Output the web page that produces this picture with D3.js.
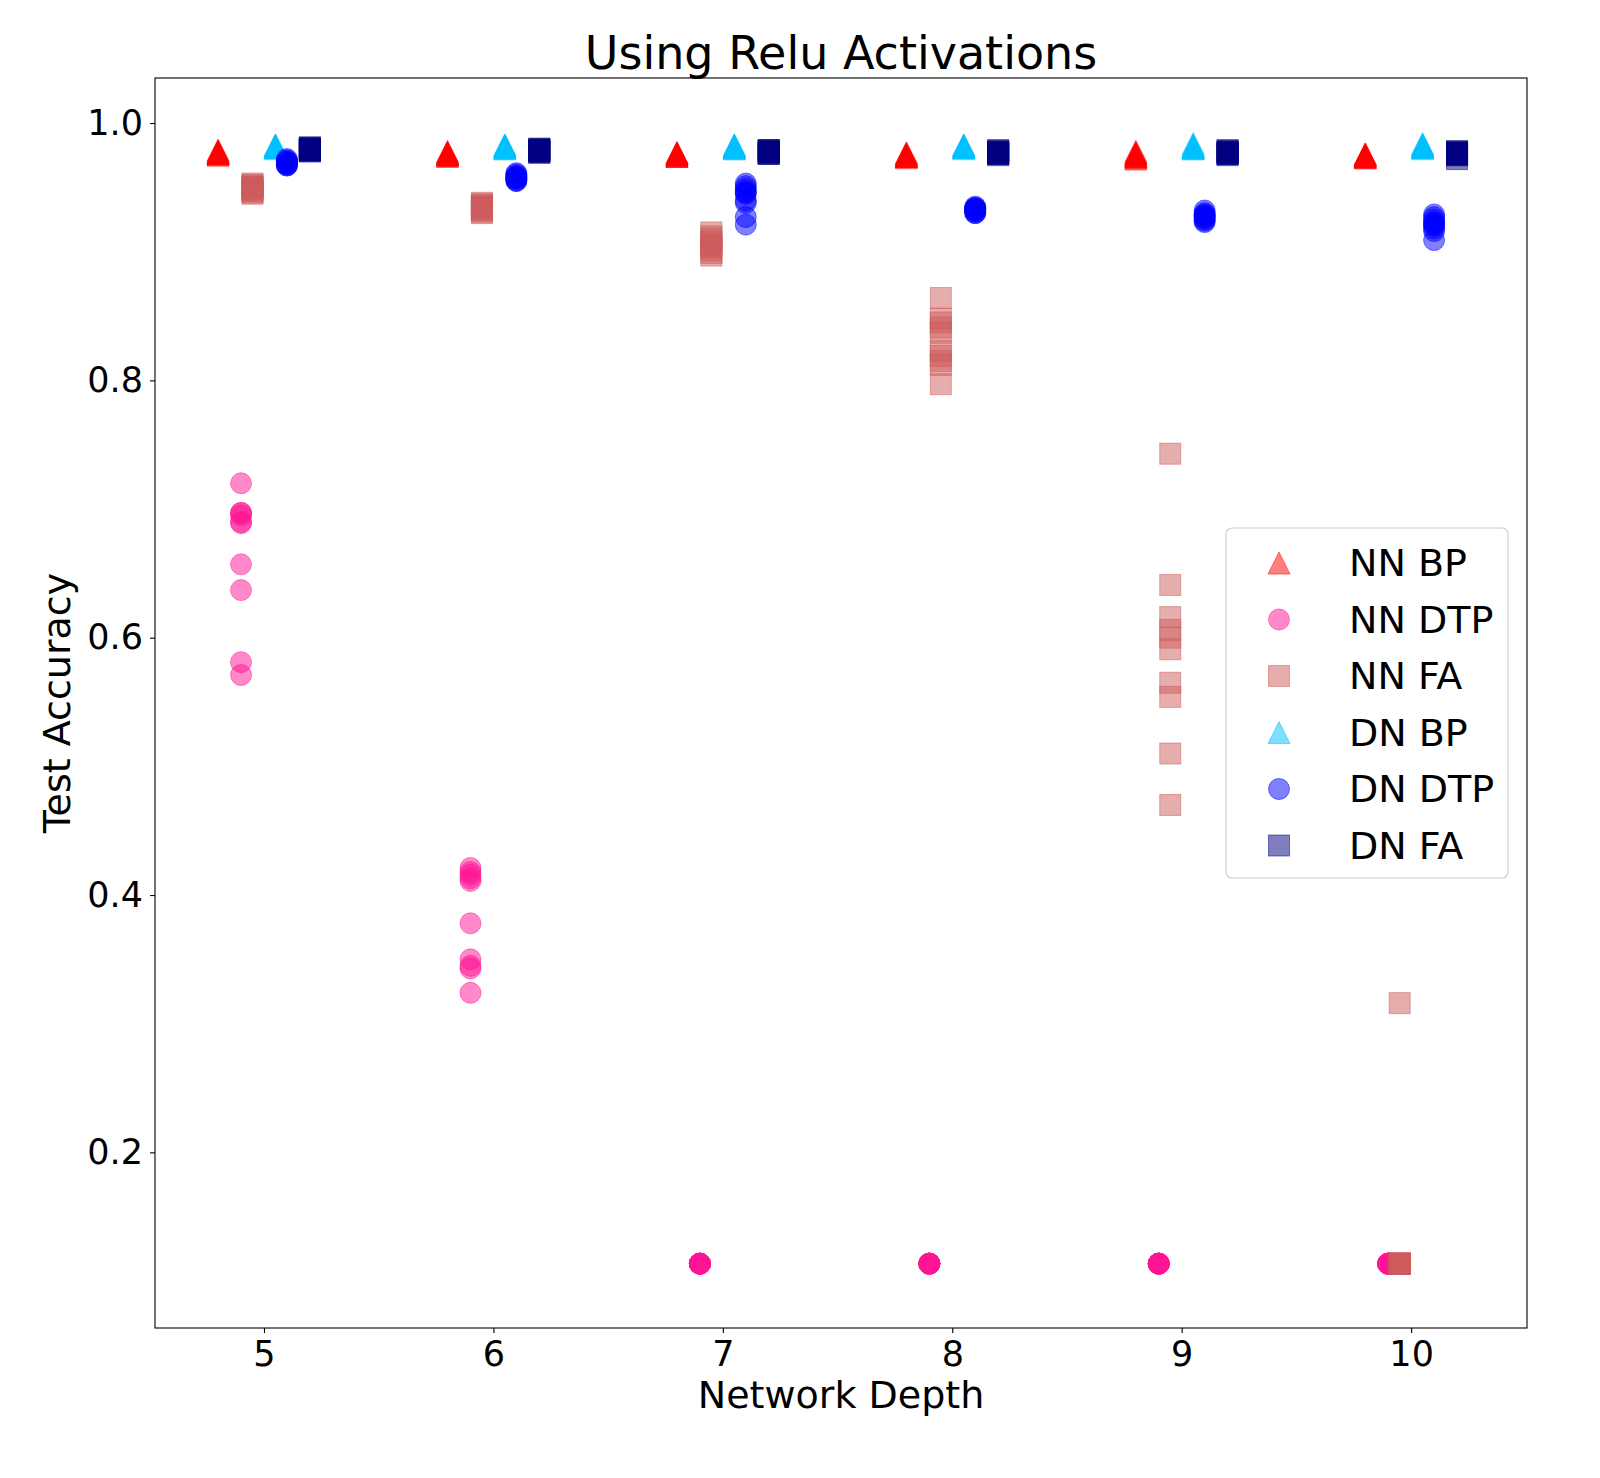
<!DOCTYPE html>
<html>
<head>
<meta charset="utf-8">
<script src="https://cdn.jsdelivr.net/npm/d3@7"></script>
<style>
  body { margin: 0; background: #fff; }
  text { font-family: "DejaVu Sans", sans-serif; }
</style>
</head>
<body>
<div id="app"></div>
<script>
// network depths on the x axis
const depths = [5, 6, 7, 8, 9, 10];
const yTicks = [0.2, 0.4, 0.6, 0.8, 1.0];

// test accuracy per run, one row per depth (10 runs each)
const nnBP = [
  [0.979, 0.978, 0.978, 0.977, 0.977, 0.977, 0.976, 0.976, 0.976, 0.975],
  [0.978, 0.977, 0.977, 0.976, 0.976, 0.976, 0.975, 0.975, 0.975, 0.974],
  [0.977, 0.977, 0.976, 0.976, 0.976, 0.975, 0.975, 0.975, 0.974, 0.974],
  [0.977, 0.976, 0.976, 0.975, 0.975, 0.975, 0.974, 0.974, 0.974, 0.973],
  [0.978, 0.977, 0.976, 0.976, 0.975, 0.975, 0.974, 0.974, 0.973, 0.972],
  [0.976, 0.976, 0.975, 0.975, 0.975, 0.974, 0.974, 0.974, 0.973, 0.973]
];
const nnDTP = [
  [0.720, 0.697, 0.697, 0.695, 0.690, 0.689, 0.657, 0.637, 0.581, 0.571],
  [0.421, 0.418, 0.416, 0.413, 0.411, 0.378, 0.350, 0.345, 0.343, 0.324],
  [0.1135, 0.1135, 0.1135, 0.1135, 0.1135, 0.1135, 0.1135, 0.1135, 0.1135, 0.1135],
  [0.1135, 0.1135, 0.1135, 0.1135, 0.1135, 0.1135, 0.1135, 0.1135, 0.1135, 0.1135],
  [0.1135, 0.1135, 0.1135, 0.1135, 0.1135, 0.1135, 0.1135, 0.1135, 0.1135, 0.1135],
  [0.1135, 0.1135, 0.1135, 0.1135, 0.1135, 0.1135, 0.1135, 0.1135, 0.1135, 0.1135]
];
const nnFA = [
  [0.953, 0.952, 0.951, 0.950, 0.950, 0.949, 0.948, 0.947, 0.946, 0.945],
  [0.938, 0.937, 0.936, 0.935, 0.935, 0.934, 0.933, 0.932, 0.931, 0.930],
  [0.915, 0.912, 0.910, 0.908, 0.906, 0.905, 0.903, 0.901, 0.899, 0.897],
  [0.864, 0.848, 0.845, 0.841, 0.837, 0.823, 0.819, 0.815, 0.812, 0.797],
  [0.743, 0.641, 0.616, 0.606, 0.600, 0.591, 0.565, 0.554, 0.510, 0.470],
  [0.316, 0.1135, 0.1135, 0.1135, 0.1135, 0.1135, 0.1135, 0.1135, 0.1135, 0.1135]
];
const dnBP = [
  [0.983, 0.983, 0.982, 0.982, 0.982, 0.981, 0.981, 0.981, 0.981, 0.980],
  [0.983, 0.983, 0.982, 0.982, 0.982, 0.981, 0.981, 0.981, 0.980, 0.980],
  [0.983, 0.983, 0.982, 0.982, 0.982, 0.981, 0.981, 0.981, 0.980, 0.980],
  [0.983, 0.983, 0.982, 0.982, 0.982, 0.981, 0.981, 0.981, 0.981, 0.980],
  [0.984, 0.983, 0.982, 0.982, 0.982, 0.981, 0.981, 0.981, 0.980, 0.980],
  [0.984, 0.983, 0.983, 0.982, 0.982, 0.982, 0.981, 0.981, 0.981, 0.980]
];
const dnDTP = [
  [0.972, 0.971, 0.970, 0.970, 0.969, 0.969, 0.968, 0.968, 0.967, 0.967],
  [0.961, 0.960, 0.959, 0.958, 0.958, 0.957, 0.957, 0.956, 0.955, 0.955],
  [0.953, 0.951, 0.949, 0.947, 0.946, 0.945, 0.940, 0.938, 0.927, 0.921],
  [0.935, 0.934, 0.934, 0.933, 0.933, 0.932, 0.932, 0.931, 0.930, 0.930],
  [0.932, 0.930, 0.929, 0.928, 0.928, 0.927, 0.926, 0.925, 0.924, 0.923],
  [0.929, 0.927, 0.925, 0.923, 0.922, 0.921, 0.920, 0.918, 0.916, 0.909]
];
const dnFA = [
  [0.981, 0.981, 0.980, 0.980, 0.980, 0.979, 0.979, 0.979, 0.978, 0.978],
  [0.980, 0.980, 0.979, 0.979, 0.979, 0.978, 0.978, 0.978, 0.977, 0.977],
  [0.979, 0.979, 0.978, 0.978, 0.978, 0.977, 0.977, 0.977, 0.976, 0.976],
  [0.979, 0.978, 0.978, 0.977, 0.977, 0.977, 0.976, 0.976, 0.976, 0.975],
  [0.979, 0.978, 0.978, 0.977, 0.977, 0.977, 0.976, 0.976, 0.976, 0.975],
  [0.978, 0.978, 0.977, 0.977, 0.976, 0.976, 0.976, 0.975, 0.975, 0.972]
];

const seriesNames = ["NN BP", "NN DTP", "NN FA", "DN BP", "DN DTP", "DN FA"];
const seriesValues = [nnBP, nnDTP, nnFA, dnBP, dnDTP, dnFA];
const seriesColors = ["#ff0000", "#ff1493", "#cd5c5c", "#00bfff", "#0000ff", "#000080"];
const seriesShapes = ["triangle", "circle", "square", "triangle", "circle", "square"];
const seriesOffsets = [-0.2, -0.1, -0.05, 0.05, 0.1, 0.2];

const W = 1600, H = 1478;
const margin = { top: 78, right: 73, bottom: 150, left: 155 };

const svg = d3.select("#app")
  .append("svg")
  .attr("width", W)
  .attr("height", H);

const x = d3.scaleLinear()
  .domain([4.525, 10.505])
  .range([margin.left, W - margin.right]);

const y = d3.scaleLinear()
  .domain([0.0635, 1.035])
  .range([H - margin.bottom, margin.top]);

// draws one marker shape centred at 0,0
function marker(sel, shape) {
  if (shape === "circle") {
    sel.append("circle").attr("r", 10.5);
  } else if (shape === "square") {
    sel.append("rect").attr("x", -10.5).attr("y", -10.5).attr("width", 21).attr("height", 21);
  } else {
    sel.append("path").attr("d", "M0,-11L11,11L-11,11Z");
  }
}

// points
seriesValues.forEach((vals, si) => {
  const pts = [];
  vals.forEach((runs, di) => runs.forEach(v => pts.push({ x: depths[di] + seriesOffsets[si], y: v })));

  const g = svg.append("g")
    .attr("fill", seriesColors[si])
    .attr("fill-opacity", 0.5)
    .attr("stroke", seriesColors[si])
    .attr("stroke-opacity", 0.5)
    .attr("stroke-width", 1);

  g.selectAll("g")
    .data(pts)
    .enter()
    .append("g")
    .attr("transform", d => `translate(${x(d.x)},${y(d.y)})`)
    .each(function () { marker(d3.select(this), seriesShapes[si]); });
});

// axes
const xAxis = svg.append("g")
  .attr("transform", `translate(0,${H - margin.bottom})`)
  .call(d3.axisBottom(x).tickValues(depths).tickSize(5).tickPadding(8).tickFormat(d3.format("d")));

const yAxis = svg.append("g")
  .attr("transform", `translate(${margin.left},0)`)
  .call(d3.axisLeft(y).tickValues(yTicks).tickSize(5).tickPadding(7).tickFormat(d3.format(".1f")));

[xAxis, yAxis].forEach(a => {
  a.select(".domain").remove();
  a.selectAll("line").attr("stroke", "#000").attr("stroke-width", 1.1);
  a.selectAll("text").attr("font-size", 35).attr("fill", "#000").attr("font-family", "DejaVu Sans");
});

// frame
svg.append("rect")
  .attr("x", margin.left)
  .attr("y", margin.top)
  .attr("width", W - margin.left - margin.right)
  .attr("height", H - margin.top - margin.bottom)
  .attr("fill", "none")
  .attr("stroke", "#000")
  .attr("stroke-width", 1.1);

// title & axis labels
svg.append("text")
  .attr("x", (margin.left + W - margin.right) / 2)
  .attr("y", 69)
  .attr("text-anchor", "middle")
  .attr("font-size", 46)
  .text("Using Relu Activations");

svg.append("text")
  .attr("x", (margin.left + W - margin.right) / 2)
  .attr("y", 1408)
  .attr("text-anchor", "middle")
  .attr("font-size", 38)
  .text("Network Depth");

svg.append("text")
  .attr("transform", `translate(70,${(margin.top + H - margin.bottom) / 2}) rotate(-90)`)
  .attr("text-anchor", "middle")
  .attr("font-size", 38)
  .text("Test Accuracy");

// legend
const legend = svg.append("g").attr("transform", "translate(1226,528)");
legend.append("rect")
  .attr("width", 282)
  .attr("height", 350)
  .attr("rx", 6)
  .attr("fill", "#fff")
  .attr("fill-opacity", 0.8)
  .attr("stroke", "#cccccc")
  .attr("stroke-width", 1.1);

seriesNames.forEach((name, i) => {
  const row = legend.append("g").attr("transform", `translate(53,${35 + i * 56.5})`);
  const m = row.append("g")
    .attr("fill", seriesColors[i])
    .attr("fill-opacity", 0.5)
    .attr("stroke", seriesColors[i])
    .attr("stroke-opacity", 0.5);
  marker(m, seriesShapes[i]);
  row.append("text")
    .attr("x", 70)
    .attr("y", 13)
    .attr("font-size", 38)
    .text(name);
});
</script>
</body>
</html>
